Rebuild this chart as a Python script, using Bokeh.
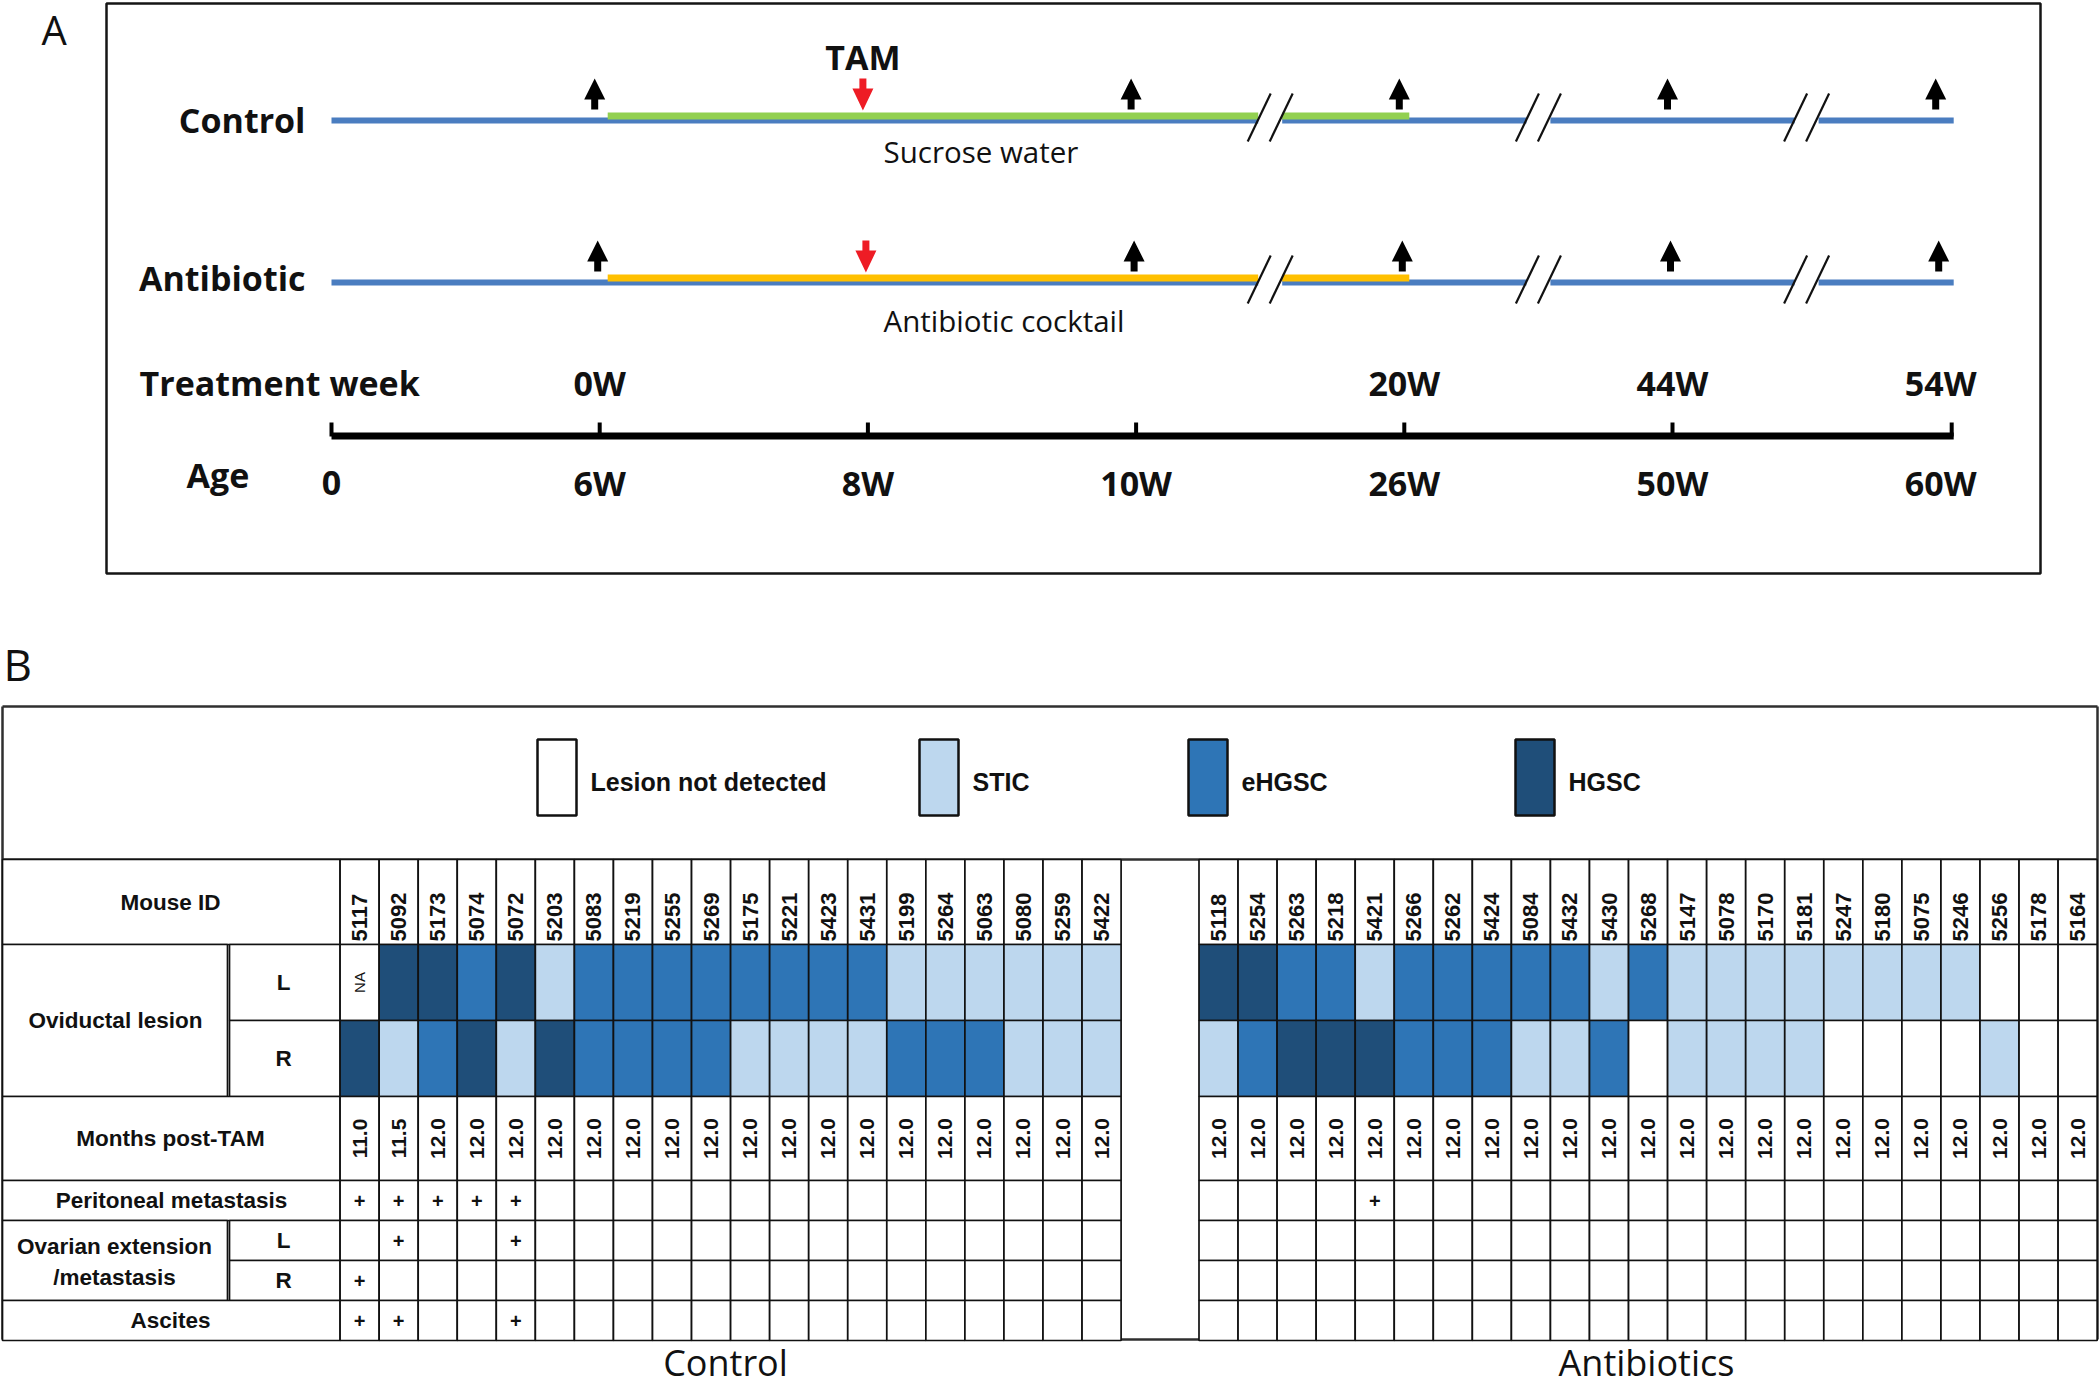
import math
from bokeh.plotting import figure
from bokeh.models import Range1d
from bokeh.core.properties import value
from bokeh.embed import file_html
from bokeh.resources import INLINE

# ---------------- data: panel A (study design) ----------------
age_labels = ["0", "6W", "8W", "10W", "26W", "50W", "60W"]
week_labels = ["", "0W", "", "", "20W", "44W", "54W"]
sample_points = [1, 3, 4, 5, 6]      # black arrows (sampling)
tam_points = [2]                     # red arrow (TAM)
treat_start, treat_end = 1, 4        # treatment window (index on timeline)
breaks_after = [3, 4, 5]             # axis breaks between index i and i+1
groups_A = ["Control", "Antibiotic"]
treat_names = ["Sucrose water", "Antibiotic cocktail"]
treat_colors = ["#92D050", "#FFC000"]

# ---------------- data: panel B (lesion table) ----------------
ctrl_ids = ["5117", "5092", "5173", "5074", "5072", "5203", "5083", "5219", "5255", "5269",
            "5175", "5221", "5423", "5431", "5199", "5264", "5063", "5080", "5259", "5422"]
ctrl_L = ["NA", "H", "H", "E", "H", "S", "E", "E", "E", "E",
          "E", "E", "E", "E", "S", "S", "S", "S", "S", "S"]
ctrl_R = ["H", "S", "E", "H", "S", "H", "E", "E", "E", "E",
          "S", "S", "S", "S", "E", "E", "E", "S", "S", "S"]
ctrl_months = ["11.0", "11.5"] + ["12.0"] * 18
ctrl_perit = ["+", "+", "+", "+", "+"] + [""] * 15
ctrl_ovL = ["", "+", "", "", "+"] + [""] * 15
ctrl_ovR = ["+", "", "", "", ""] + [""] * 15
ctrl_asc = ["+", "+", "", "", "+"] + [""] * 15

abx_ids = ["5118", "5254", "5263", "5218", "5421", "5266", "5262", "5424", "5084", "5432",
           "5430", "5268", "5147", "5078", "5170", "5181", "5247", "5180", "5075", "5246",
           "5256", "5178", "5164"]
abx_L = ["H", "H", "E", "E", "S", "E", "E", "E", "E", "E",
         "S", "E", "S", "S", "S", "S", "S", "S", "S", "S",
         "N", "N", "N"]
abx_R = ["S", "E", "H", "H", "H", "E", "E", "E", "S", "S",
         "E", "N", "S", "S", "S", "S", "N", "N", "N", "N",
         "S", "N", "N"]
abx_months = ["12.0"] * 23
abx_perit = ["", "", "", "", "+"] + [""] * 18
abx_ovL = [""] * 23
abx_ovR = [""] * 23
abx_asc = [""] * 23

legend_codes = ["N", "S", "E", "H"]
legend_names = ["Lesion not detected", "STIC", "eHGSC", "HGSC"]
status_colors = {"NA": "#FFFFFF", "N": "#FFFFFF", "S": "#BDD7EE", "E": "#2E75B6", "H": "#1F4E79"}

# ---------------- figure ----------------
W, H = 2100, 1388


def fs(px):
    return value(f"{px:.1f}px")


p = figure(width=W, height=H, x_range=Range1d(0, 2100), y_range=Range1d(1388, 0),
           output_backend="svg", toolbar_location=None, min_border=0,
           x_axis_location=None, y_axis_location=None, outline_line_color=None)
p.grid.visible = False

OS = value("Open Sans")
AR = value("Liberation Sans")
TC = "#111111"

# ================= Panel A =================
p.text(x=[41], y=[29], text=["A"], text_font=OS, text_font_size=fs(40),
       text_baseline="middle", text_align="left", text_color=TC)
p.quad(left=[106], right=[2040], top=[3], bottom=[573], fill_color=None,
       line_color="#151515", line_width=2.5)

X0, STEP = 331.0, 268.2
xpos = [X0 + STEP * i for i in range(len(age_labels))]
line_end = xpos[-1] + 13
break_c = [(xpos[i] + xpos[i + 1]) / 2 for i in breaks_after]
GAP = 12

line_y = [120, 282]
label_mid = [119.5, 277]
treat_text_mid = [151, 319.5]
arrow_off = [-5, -2]


def pieces(a, b):
    pts = [a]
    for c in break_c:
        if a < c < b:
            pts += [c - GAP, c + GAP]
    pts.append(b)
    return [(pts[k], pts[k + 1]) for k in range(0, len(pts), 2)]


for g, ly in enumerate(line_y):
    # baseline (blue)
    seg = pieces(xpos[0], line_end)
    p.segment(x0=[s[0] for s in seg], x1=[s[1] for s in seg], y0=[ly] * len(seg), y1=[ly] * len(seg),
              line_color="#4A7DC0", line_width=6, line_cap="butt")
    # treatment
    seg = pieces(xpos[treat_start] + 8, xpos[treat_end] + 5)
    p.segment(x0=[s[0] for s in seg], x1=[s[1] for s in seg], y0=[ly - 4.5] * len(seg),
              y1=[ly - 4.5] * len(seg), line_color=treat_colors[g], line_width=7, line_cap="butt")
    # break slashes
    sx0, sx1, sy0, sy1 = [], [], [], []
    for c in break_c:
        for d in (-11, 11):
            sx0.append(c + d - 11.5); sy0.append(ly - 3 + 24)
            sx1.append(c + d + 11.5); sy1.append(ly - 3 - 24)
    p.segment(x0=sx0, x1=sx1, y0=sy0, y1=sy1, line_color=TC, line_width=2.2)
    # black arrows (up)
    xs, ys = [], []
    for i in sample_points:
        a = xpos[i] + arrow_off[g]
        t, b = ly - 42, ly - 11
        xs.append([a, a + 10.5, a + 3.5, a + 3.5, a - 3.5, a - 3.5, a - 10.5])
        ys.append([t, t + 21, t + 21, b, b, t + 21, t + 21])
    p.patches(xs=xs, ys=ys, fill_color="#000000", line_color=None)
    # red arrows (down)
    xs, ys = [], []
    for i in tam_points:
        a = xpos[i] + arrow_off[g]
        t, b = ly - 42, ly - 10
        xs.append([a - 3.5, a + 3.5, a + 3.5, a + 10.5, a, a - 10.5, a - 3.5])
        ys.append([t, t, t + 10, t + 10, b, t + 10, t + 10])
    p.patches(xs=xs, ys=ys, fill_color="#EE1C25", line_color=None)
    # labels
    p.text(x=[305], y=[label_mid[g]], text=[groups_A[g]], text_font=OS, text_font_size=fs(34),
           text_font_style="bold", text_align="right", text_baseline="middle", text_color=TC)
    p.text(x=[883], y=[treat_text_mid[g]], text=[treat_names[g]], text_font=OS, text_font_size=fs(29.5),
           text_align="left", text_baseline="middle", text_color=TC)

p.text(x=[xpos[tam_points[0]] - 5], y=[56], text=["TAM"], text_font=OS, text_font_size=fs(34),
       text_font_style="bold", text_align="center", text_baseline="middle", text_color=TC)

# time axis
p.segment(x0=[xpos[0]], x1=[line_end], y0=[435.5], y1=[435.5], line_color="#000000", line_width=7,
          line_cap="butt")
tick_x = xpos[:-1] + [line_end - 2]
p.segment(x0=tick_x, x1=tick_x, y0=[436] * len(tick_x), y1=[422] * len(tick_x),
          line_color="#000000", line_width=4, line_cap="butt")

wl = [(xpos[i], t) for i, t in enumerate(week_labels) if t]
p.text(x=[w[0] for w in wl], y=[382] * len(wl), text=[w[1] for w in wl], text_font=OS,
       text_font_size=fs(34), text_font_style="bold", text_align="center",
       text_baseline="middle", text_color=TC)
p.text(x=xpos, y=[482.5] * len(xpos), text=age_labels, text_font=OS, text_font_size=fs(34),
       text_font_style="bold", text_align="center", text_baseline="middle", text_color=TC)
p.text(x=[139], y=[382], text=["Treatment week"], text_font=OS, text_font_size=fs(34),
       text_font_style="bold", text_align="left", text_baseline="middle", text_color=TC)
p.text(x=[186], y=[474], text=["Age"], text_font=OS, text_font_size=fs(34),
       text_font_style="bold", text_align="left", text_baseline="middle", text_color=TC)

# ================= Panel B =================
p.text(x=[3], y=[663], text=["B"], text_font=OS, text_font_size=fs(44),
       text_baseline="middle", text_align="left", text_color=TC)

FR = "#2f2f2f"
p.segment(x0=[2, 2, 2097, 2, 2], x1=[2097, 2, 2097, 2097, 2097],
          y0=[706, 706, 706, 859, 1339], y1=[706, 1339, 1339, 859, 1339],
          line_color=FR, line_width=2.5)

# legend
leg_left = [537, 919, 1188, 1515]
p.quad(left=leg_left, right=[l + 39 for l in leg_left], top=[739] * 4, bottom=[815] * 4,
       fill_color=[status_colors[c] for c in legend_codes], line_color=TC, line_width=2.5)
p.text(x=[l + 53 for l in leg_left], y=[781] * 4, text=legend_names, text_font=AR,
       text_font_size=fs(25), text_font_style="bold", text_align="left", text_baseline="middle",
       text_color=TC)

# row geometry
Y_HEAD = (859, 944)
Y_L = (944, 1020)
Y_R = (1020, 1096)
Y_MON = (1096, 1180)
Y_PER = (1180, 1220)
Y_OVL = (1220, 1260)
Y_OVR = (1260, 1300)
Y_ASC = (1300, 1340)
CW = 39.05
LW = 1.7

# label column
lab_boxes = [
    (0, 339.6, Y_HEAD), (0, 227, (Y_L[0], Y_R[1])), (227, 339.6, Y_L), (227, 339.6, Y_R),
    (0, 339.6, Y_MON), (0, 339.6, Y_PER), (0, 227, (Y_OVL[0], Y_OVR[1])), (227, 339.6, Y_OVL),
    (227, 339.6, Y_OVR), (0, 339.6, Y_ASC)]
p.quad(left=[b[0] + 2 for b in lab_boxes], right=[b[1] for b in lab_boxes],
       top=[b[2][0] for b in lab_boxes], bottom=[b[2][1] for b in lab_boxes],
       fill_color="#FFFFFF", line_color=TC, line_width=LW)
lab_txt = [
    (170, sum(Y_HEAD) / 2, "Mouse ID"), (115, (Y_L[0] + Y_R[1]) / 2, "Oviductal lesion"),
    (283, sum(Y_L) / 2, "L"), (283, sum(Y_R) / 2, "R"), (170, sum(Y_MON) / 2, "Months post-TAM"),
    (171, sum(Y_PER) / 2, "Peritoneal metastasis"), (114, 1246, "Ovarian extension"),
    (114, 1277, "/metastasis"), (283, sum(Y_OVL) / 2, "L"), (283, sum(Y_OVR) / 2, "R"),
    (170, sum(Y_ASC) / 2, "Ascites")]
p.text(x=[t[0] for t in lab_txt], y=[t[1] for t in lab_txt], text=[t[2] for t in lab_txt],
       text_font=AR, text_font_size=fs(22.5), text_font_style="bold", text_align="center",
       text_baseline="middle", text_color=TC)


def draw_table(x0, ids, L, R, months, perit, ovL, ovR, asc, title, title_x):
    n = len(ids)
    lefts = [x0 + i * CW for i in range(n)]
    rights = [l + CW for l in lefts]
    xc = [l + CW / 2 for l in lefts]
    rows = [(Y_HEAD, ["#FFFFFF"] * n), (Y_L, [status_colors[s] for s in L]),
            (Y_R, [status_colors[s] for s in R]), (Y_MON, ["#FFFFFF"] * n),
            (Y_PER, ["#FFFFFF"] * n), (Y_OVL, ["#FFFFFF"] * n), (Y_OVR, ["#FFFFFF"] * n),
            (Y_ASC, ["#FFFFFF"] * n)]
    for (yy, cols) in rows:
        p.quad(left=lefts, right=rights, top=[yy[0]] * n, bottom=[yy[1]] * n,
               fill_color=cols, line_color=TC, line_width=LW)
    p.text(x=xc, y=[941] * n, text=ids, angle=math.pi / 2, text_font=AR, text_font_size=fs(22),
           text_font_style="bold", text_align="left", text_baseline="middle", text_color=TC)
    p.text(x=xc, y=[sum(Y_MON) / 2] * n, text=months, angle=math.pi / 2, text_font=AR,
           text_font_size=fs(21), text_font_style="bold", text_align="center",
           text_baseline="middle", text_color=TC)
    na = [i for i, s in enumerate(L) if s == "NA"]
    if na:
        p.text(x=[xc[i] for i in na], y=[sum(Y_L) / 2] * len(na), text=["NA"] * len(na),
               angle=math.pi / 2, text_font=AR, text_font_size=fs(15), text_align="center",
               text_baseline="middle", text_color=TC)
    for yy, marks in ((Y_PER, perit), (Y_OVL, ovL), (Y_OVR, ovR), (Y_ASC, asc)):
        idx = [i for i, m in enumerate(marks) if m]
        if idx:
            p.text(x=[xc[i] for i in idx], y=[sum(yy) / 2] * len(idx), text=[marks[i] for i in idx],
                   text_font=AR, text_font_size=fs(20), text_font_style="bold", text_align="center",
                   text_baseline="middle", text_color=TC)
    p.text(x=[title_x], y=[1362], text=[title], text_font=OS,
           text_font_size=fs(36), text_align="center", text_baseline="middle",
           text_color=TC)


draw_table(339.6, ctrl_ids, ctrl_L, ctrl_R, ctrl_months, ctrl_perit, ctrl_ovL, ctrl_ovR, ctrl_asc,
           "Control", 725)
draw_table(1198.5, abx_ids, abx_L, abx_R, abx_months, abx_perit, abx_ovL, abx_ovR, abx_asc,
           "Antibiotics", 1646)

open("out.html", "w").write(file_html(p, INLINE))
